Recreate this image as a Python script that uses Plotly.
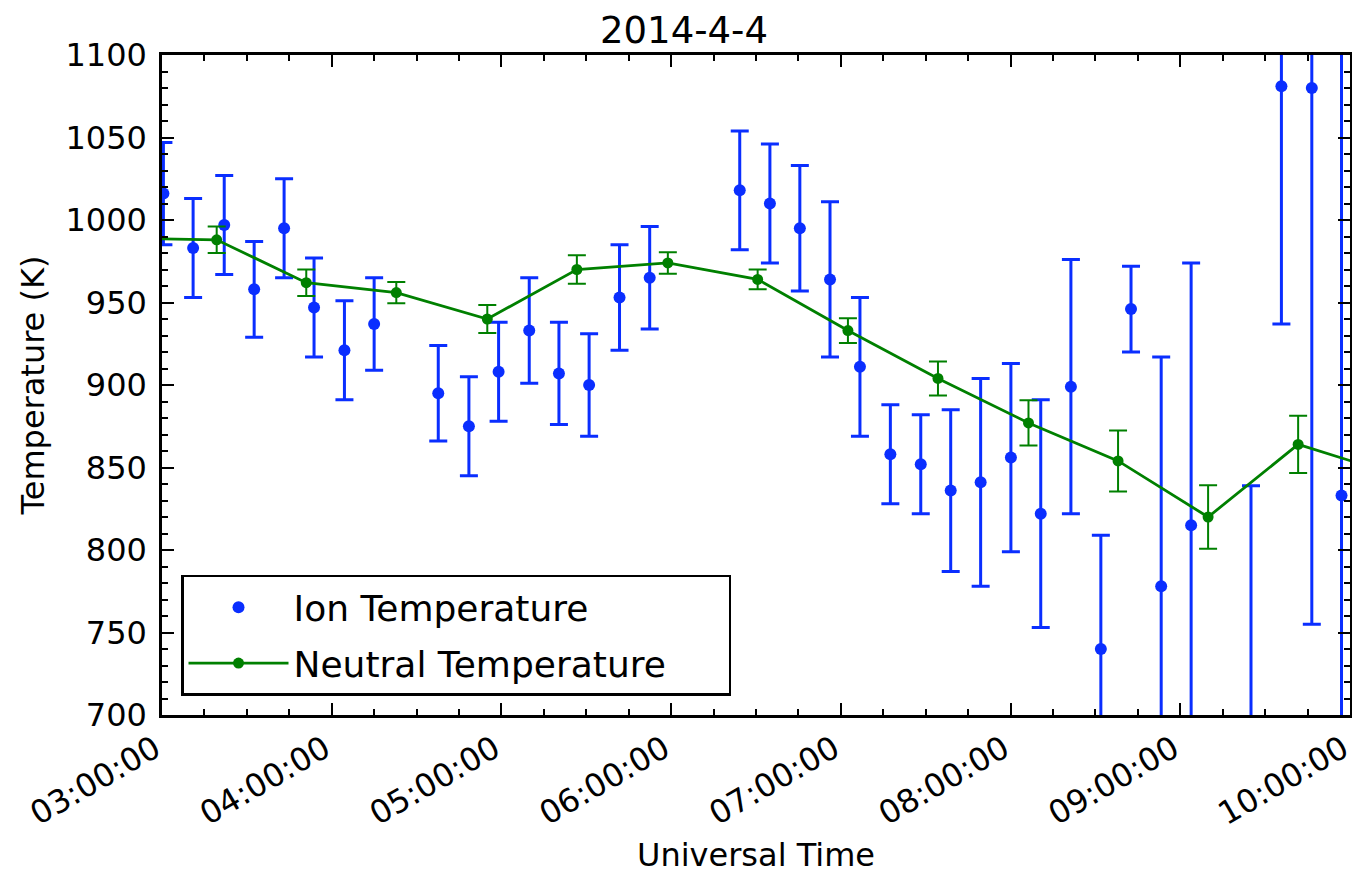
import plotly.graph_objects as go

DATE = "2014-04-04 "

ion_times = ["03:00:30", "03:11:00", "03:22:00", "03:32:35", "03:43:10", "03:53:45",
             "04:04:30", "04:15:00", "04:37:40", "04:48:30", "04:59:00", "05:09:50",
             "05:20:20", "05:31:00", "05:41:45", "05:52:25", "06:24:15", "06:34:55",
             "06:45:30", "06:56:10", "07:06:45", "07:17:30", "07:28:15", "07:38:50",
             "07:49:25", "08:00:07", "08:10:40", "08:21:20", "08:31:55", "08:42:35",
             "08:53:15", "09:03:50", "09:25:00", "09:35:45", "09:46:30", "09:57:00"]
ion_temp = [1016, 983, 997, 958, 995, 947, 921, 937, 895, 875, 908, 933,
            907, 900, 953, 965, 1018, 1010, 995, 964, 911, 858, 852, 836,
            841, 856, 822, 899, 740, 946, 778, 815, 680, 1081, 1080, 833]
ion_err = [31, 30, 30, 29, 30, 30, 30, 28, 29, 30, 30, 32,
           31, 31, 32, 31, 36, 36, 38, 47, 42, 30, 30, 49,
           63, 57, 69, 77, 69, 26, 139, 159, 159, 144, 325, 300]

neu_times = ["02:47:25", "03:19:20", "03:51:00", "04:22:50", "04:55:00", "05:26:40",
             "05:58:50", "06:30:35", "07:02:30", "07:34:20", "08:06:20", "08:38:00",
             "09:09:50", "09:41:40", "10:13:25"]
neu_temp = [989, 988, 962, 956, 940, 970, 974, 964, 933, 904, 877, 854, 820, 864, 847]
neu_err = [8, 8, 8, 6.5, 8.5, 8.7, 6.5, 6, 7.5, 10.3, 13.7, 18.5, 19.3, 17.3, 17]

y_ticks = [700, 750, 800, 850, 900, 950, 1000, 1050, 1100]

BLUE = "#0a2eff"
GREEN = "#008000"
FONT = "DejaVu Sans"
PAD = "\u00a0" * 5

fig = go.Figure()
fig.add_trace(go.Scatter(
    x=[DATE + t for t in ion_times], y=ion_temp,
    mode="markers", name="Ion Temperature", legendgroup="ion",
    marker=dict(color=BLUE, size=12),
    error_y=dict(type="data", array=ion_err, visible=True, color=BLUE,
                 thickness=3, width=9),
))
fig.add_trace(go.Scatter(
    x=[DATE + t for t in neu_times], y=neu_temp,
    mode="lines+markers", name="Neutral Temperature" + PAD, legendgroup="neu",
    line=dict(color=GREEN, width=2.8),
    marker=dict(color=GREEN, size=11),
    error_y=dict(type="data", array=neu_err, visible=True, color=GREEN,
                 thickness=2, width=9),
))

axis_common = dict(
    showline=True, linecolor="black", linewidth=2.5, mirror="ticks",
    ticks="inside", tickcolor="black", tickwidth=1.5, ticklen=12,
    showgrid=False, zeroline=False, automargin=False,
    ticklabeloverflow="allow",
    tickfont=dict(family=FONT, size=32, color="black"),
)

fig.update_layout(
    width=1352, height=866,
    margin=dict(l=154, r=10, t=47, b=159, autoexpand=False),
    paper_bgcolor="white", plot_bgcolor="white",
    font=dict(family=FONT, color="black"),
    title=dict(text="2014-4-4", x=0.5, xanchor="center", y=0.989, yanchor="top",
               automargin=False,
               font=dict(family=FONT, size=37, color="black")),
    xaxis=dict(
        **axis_common,
        range=[DATE + "03:00:00", DATE + "10:00:00"],
        tickformat="%H:%M:%S", dtick=3600000, tick0=DATE + "03:00:00",
        tickangle=-30, ticklabelshift=-7,
        minor=dict(dtick=900000, ticks="inside", ticklen=6, tickwidth=1.5, tickcolor="black"),
        title=dict(text="Universal Time", font=dict(family=FONT, size=32, color="black"),
                   standoff=27),
    ),
    yaxis=dict(
        **axis_common,
        range=[700, 1100], tickvals=y_ticks, ticklabelstandoff=6,
        minor=dict(dtick=10, ticks="inside", ticklen=6, tickwidth=1.5, tickcolor="black"),
        title=dict(text="Temperature (K)", font=dict(family=FONT, size=32, color="black"),
                   standoff=12),
    ),
    legend=dict(
        x=0.016, y=0.029, xanchor="left", yanchor="bottom",
        bgcolor="white", bordercolor="black", borderwidth=2.5,
        font=dict(family=FONT, size=36, color="black"),
        itemwidth=100, tracegroupgap=6, traceorder="grouped",
    ),
    showlegend=True,
)

fig.write_html("out.html")
